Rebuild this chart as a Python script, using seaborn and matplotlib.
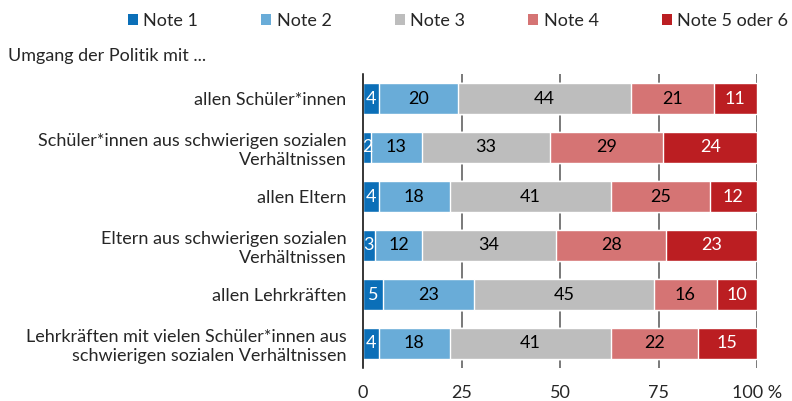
import numpy as np
import pandas as pd
import matplotlib
matplotlib.use("Agg")
import matplotlib.pyplot as plt
import matplotlib.transforms as mtrans
from matplotlib.patches import Patch
import seaborn as sns

categories = [
    "allen Schüler*innen",
    "Schüler*innen aus schwierigen sozialen\nVerhältnissen",
    "allen Eltern",
    "Eltern aus schwierigen sozialen\nVerhältnissen",
    "allen Lehrkräften",
    "Lehrkräften mit vielen Schüler*innen aus\nschwierigen sozialen Verhältnissen",
]
note1 = [4, 2, 4, 3, 5, 4]
note2 = [20, 13, 18, 12, 23, 18]
note3 = [44, 33, 41, 34, 45, 41]
note4 = [21, 29, 25, 28, 16, 22]
note5 = [11, 24, 12, 23, 10, 15]
series_names = ["Note 1", "Note 2", "Note 3", "Note 4", "Note 5 oder 6"]
colors = ["#0b6fb8", "#69acd8", "#bdbdbd", "#d57474", "#bb1e22"]
text_colors = ["white", "black", "black", "black", "white"]
xticks = [0, 25, 50, 75, 100]
xticklabels = ["0", "25", "50", "75", "100 %"]

sns.set_style("white")
plt.rcParams["font.family"] = ["Lato", "DejaVu Sans"]
fs = 13

df = pd.DataFrame({"cat": categories, "Note 1": note1, "Note 2": note2,
                   "Note 3": note3, "Note 4": note4, "Note 5 oder 6": note5})
vals = df[series_names].to_numpy(dtype=float)
shares = vals / vals.sum(axis=1, keepdims=True) * 100
cum = np.cumsum(shares, axis=1)

fig = plt.figure(figsize=(7.92, 4.01), dpi=100)
ax = fig.add_axes([363 / 792, 1 - 368 / 401, 394 / 792, (368 - 74) / 401])

for x in [25, 50, 75, 100]:
    ax.axvline(x, color="#555555", lw=1.1, zorder=0)

# stacked bars drawn back to front as cumulative totals
for i in range(len(series_names) - 1, -1, -1):
    sns.barplot(x=cum[:, i], y=df["cat"], orient="h", color=colors[i],
                width=0.63, saturation=1, ax=ax, zorder=2)

for r in range(len(categories)):
    for i in range(len(series_names)):
        mid = cum[r, i] - shares[r, i] / 2
        ax.text(mid, r, str(int(vals[r, i])), ha="center", va="center",
                color=text_colors[i], fontsize=fs, zorder=3)

ax.set_xlim(0, 100)
ax.set_ylim(5.5, -0.5)
ax.set_xlabel("")
ax.set_ylabel("")
ax.set_xticks(xticks)
ax.set_xticklabels(xticklabels, fontsize=fs)
last = ax.get_xticklabels()[-1]
last.set_transform(last.get_transform() + mtrans.ScaledTranslation(10 / 100, 0, fig.dpi_scale_trans))
ax.tick_params(axis="x", length=6, width=1.1, color="#555555", pad=6, direction="out")
ax.tick_params(axis="y", length=0, pad=12, labelsize=fs)
for lab in ax.get_yticklabels():
    lab.set_horizontalalignment("right")
    lab.set_multialignment("right")
    lab.set_linespacing(1.25)
for s in ["top", "right", "bottom"]:
    ax.spines[s].set_visible(False)
ax.spines["left"].set_color("black")
ax.spines["left"].set_linewidth(1.1)
ax.spines["left"].set_zorder(4)

fig.text(8 / 792, 1 - 56 / 401, "Umgang der Politik mit ...", ha="left", va="center", fontsize=fs)

handles = [Patch(facecolor=c, edgecolor="none") for c in colors]
fig.legend(handles, series_names, loc="center", bbox_to_anchor=(458 / 792, 1 - 21 / 401),
           ncol=5, frameon=False, fontsize=fs, handlelength=0.55, handleheight=0.55,
           handletextpad=0.3, columnspacing=3.5)

fig.savefig("out.png", dpi=100)
